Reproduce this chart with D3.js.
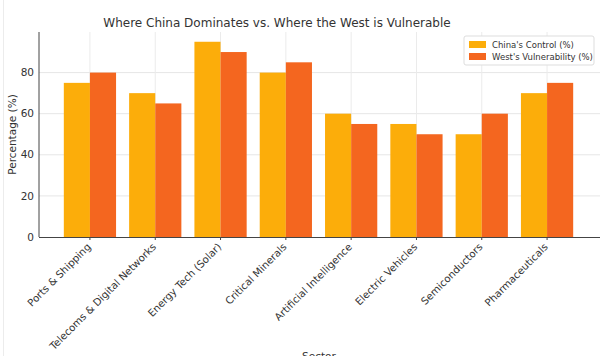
<!DOCTYPE html>
<html><head><meta charset="utf-8">
<script src="https://cdn.jsdelivr.net/npm/d3@7"></script>
<style>body{margin:0;background:#fff}svg{display:block}text{font-family:"DejaVu Sans",sans-serif}</style>
</head><body><svg id="c" width="600" height="356"></svg>
<script>
const categories = ["Ports & Shipping","Telecoms & Digital Networks","Energy Tech (Solar)","Critical Minerals","Artificial Intelligence","Electric Vehicles","Semiconductors","Pharmaceuticals"];
const chinaControl = [75,70,95,80,60,55,50,70];
const westVulnerability = [80,65,90,85,55,50,60,75];
const yTicks = [0,20,40,60,80];
const seriesNames = ["China's Control (%)","West's Vulnerability (%)"];
const colors = ["#FCAD0A","#F4661F"];

const svg = d3.select("#c");
const L=39, R=598, T=32, B=237;
const x = d3.scaleLinear().domain([-0.78, 7.78]).range([L, R]);
const y = d3.scaleLinear().domain([0, 99.75]).range([B, T]);
const bw = 0.4;

svg.append("line").attr("x1",3.5).attr("x2",3.5).attr("y1",0).attr("y2",356).attr("stroke","#ececec");

svg.append("g").selectAll("line").data(yTicks.filter(d=>d>0)).join("line")
  .attr("x1",L).attr("x2",600).attr("y1",d=>y(d)).attr("y2",d=>y(d)).attr("stroke","#e6e6e6").attr("stroke-width",1);
svg.append("g").selectAll("line").data(categories).join("line")
  .attr("x1",(d,i)=>x(i)).attr("x2",(d,i)=>x(i)).attr("y1",T).attr("y2",B).attr("stroke","#ebebeb").attr("stroke-width",1);

const series=[chinaControl, westVulnerability];
series.forEach((vals,s)=>{
  svg.append("g").selectAll("rect").data(vals).join("rect")
    .attr("x",(d,i)=>x(i + (s===0?-bw:0)))
    .attr("width",x(bw)-x(0))
    .attr("y",d=>y(d)).attr("height",d=>y(0)-y(d))
    .attr("fill",colors[s]);
});

svg.append("line").attr("x1",L).attr("x2",L).attr("y1",T).attr("y2",B).attr("stroke","#444").attr("stroke-width",1);
svg.append("line").attr("x1",L).attr("x2",600).attr("y1",B+0.5).attr("y2",B+0.5).attr("stroke","#444").attr("stroke-width",1);

svg.append("g").selectAll("text").data(yTicks).join("text")
  .attr("x",L-5).attr("y",d=>y(d)).attr("dy","0.35em").attr("text-anchor","end")
  .attr("font-size",10.5).attr("fill","#333").text(d=>d);
svg.append("g").selectAll("line").data(categories).join("line")
  .attr("x1",(d,i)=>x(i)).attr("x2",(d,i)=>x(i)).attr("y1",B).attr("y2",B+3).attr("stroke","#444");
svg.append("g").selectAll("text").data(categories).join("text")
  .attr("transform",(d,i)=>`translate(${x(i)-1},${B+8}) rotate(-45)`)
  .attr("text-anchor","end").attr("dy","0.35em")
  .attr("font-size",10.2).attr("fill","#333").text(d=>d);

svg.append("text").attr("x",277).attr("y",27).attr("text-anchor","middle")
  .attr("font-size",12).attr("fill","#333").text("Where China Dominates vs. Where the West is Vulnerable");
svg.append("text").attr("transform",`translate(16,${(T+B)/2}) rotate(-90)`).attr("text-anchor","middle")
  .attr("font-size",10.5).attr("fill","#333").text("Percentage (%)");
svg.append("text").attr("x",319).attr("y",360).attr("text-anchor","middle")
  .attr("font-size",10.5).attr("fill","#333").text("Sector");

const lg = svg.append("g").attr("transform","translate(464,36)");
lg.append("rect").attr("width",130).attr("height",29).attr("rx",2).attr("fill","#fff").attr("stroke","#ddd");
seriesNames.forEach((n,i)=>{
  lg.append("rect").attr("x",5).attr("y",5+i*12).attr("width",17).attr("height",7).attr("fill",colors[i]);
  lg.append("text").attr("x",28).attr("y",9+i*12).attr("dy","0.35em").attr("font-size",8.5).attr("fill","#333").text(n);
});
</script></body></html>
